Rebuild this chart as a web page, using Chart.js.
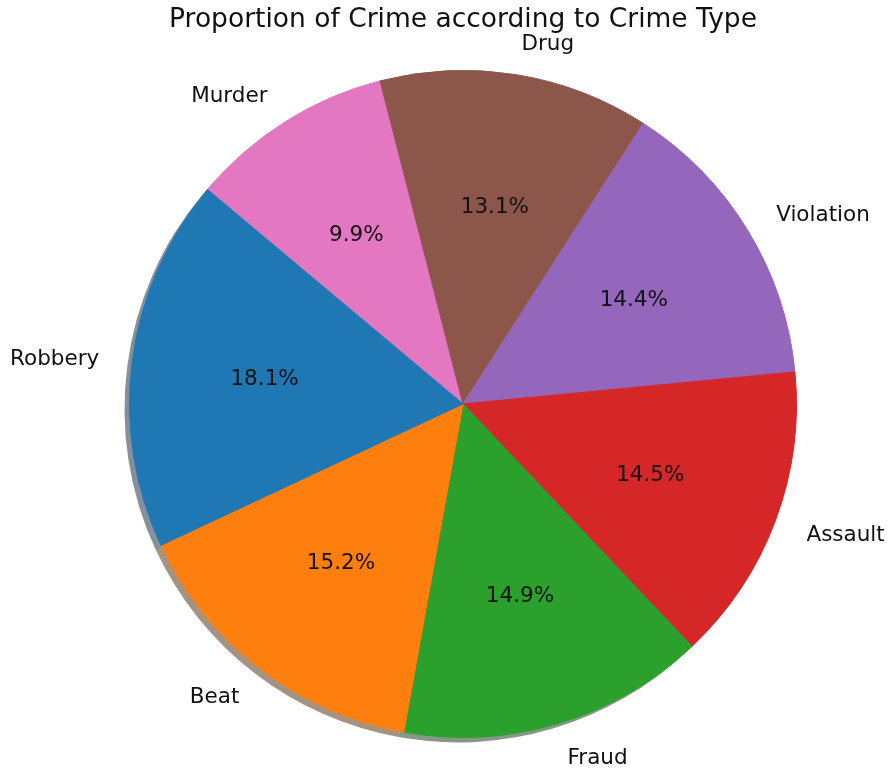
<!DOCTYPE html>
<html>
<head>
<meta charset="utf-8">
<script src="https://cdn.jsdelivr.net/npm/chart.js@4.4.1/dist/chart.umd.min.js"></script>
<style>
  body { margin: 0; background: #fff; }
</style>
</head>
<body>
<canvas id="pie-chart" width="893" height="772"></canvas>
<script>
// crime types, counter-clockwise from the top-left
const crimeTypes = ['Robbery', 'Beat', 'Fraud', 'Assault', 'Violation', 'Drug', 'Murder'];
const crimeShare = [18.1, 15.2, 14.9, 14.5, 14.4, 13.1, 9.9];
const sliceColors = ['#1f77b4', '#ff7f0e', '#2ca02c', '#d62728', '#9467bd', '#8c564b', '#e377c2'];

// chart.js draws clockwise, so feed it the reversed lists
const labels = crimeTypes.slice().reverse();
const values = crimeShare.slice().reverse();
const colors = sliceColors.slice().reverse();

const FONT = 'DejaVu Sans';

function darken(hex, f) {
    let r = parseInt(hex.substr(1, 2), 16) * f;
    let g = parseInt(hex.substr(3, 2), 16) * f;
    let b = parseInt(hex.substr(5, 2), 16) * f;
    return 'rgba(' + Math.round(r) + ',' + Math.round(g) + ',' + Math.round(b) + ',0.5)';
}

// dark offset copy of every slice, lower left
const shadowPlugin = {
    id: 'pieShadow',
    beforeDatasetsDraw(chart) {
        const ctx = chart.ctx;
        const arcs = chart.getDatasetMeta(0).data;
        ctx.save();
        arcs.forEach(function (arc, i) {
            ctx.beginPath();
            ctx.moveTo(arc.x - 5, arc.y + 5);
            ctx.arc(arc.x - 5, arc.y + 5, arc.outerRadius, arc.startAngle, arc.endAngle);
            ctx.closePath();
            ctx.fillStyle = darken(colors[i], 0.3);
            ctx.fill();
        });
        ctx.restore();
    }
};

// names outside the pie, percentages inside
const labelPlugin = {
    id: 'pieLabels',
    afterDatasetsDraw(chart) {
        const ctx = chart.ctx;
        const arcs = chart.getDatasetMeta(0).data;
        ctx.save();
        ctx.fillStyle = '#111';
        ctx.textBaseline = 'middle';
        arcs.forEach(function (arc, i) {
            let mid = (arc.startAngle + arc.endAngle) / 2;
            let r = arc.outerRadius;
            let cx = Math.cos(mid), cy = Math.sin(mid);

            ctx.font = '21.5px "' + FONT + '"';
            ctx.textAlign = cx > 0 ? 'left' : 'right';
            ctx.fillText(labels[i], arc.x + cx * r * 1.1, arc.y + cy * r * 1.1 + 3);

            ctx.textAlign = 'center';
            ctx.fillText(values[i].toFixed(1) + '%', arc.x + cx * r * 0.6, arc.y + cy * r * 0.6 + 1);
        });
        ctx.restore();
    }
};

const ctx = document.getElementById('pie-chart');
const myChart = new Chart(ctx, {
    type: 'pie',
    data: {
        labels: labels,
        datasets: [{
            data: values,
            backgroundColor: colors,
            borderColor: colors,
            borderWidth: 1
        }]
    },
    options: {
        responsive: false,
        animation: false,
        rotation: -50,
        layout: {
            padding: { top: 0, left: 129, right: 96, bottom: 34 }
        },
        plugins: {
            legend: { display: false },
            tooltip: { enabled: false },
            title: {
                display: true,
                text: 'Proportion of Crime according to Crime Type',
                color: '#111',
                font: { family: FONT, size: 26.5, weight: 'normal' },
                padding: { top: 4, bottom: 34 }
            }
        }
    },
    plugins: [shadowPlugin, labelPlugin]
});
</script>
</body>
</html>
